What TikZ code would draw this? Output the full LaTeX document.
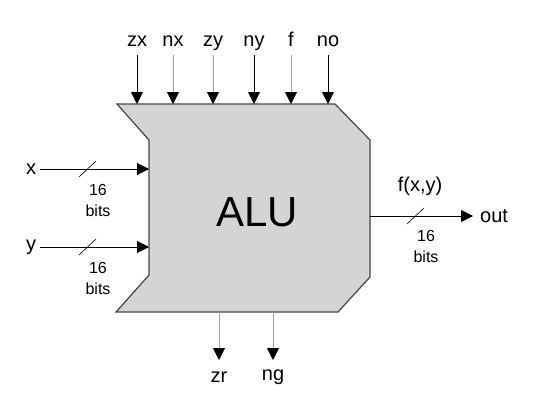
\documentclass[tikz,border=0pt]{standalone}
\usepackage{fontspec}
\setmainfont{Liberation Sans}
\usetikzlibrary{arrows.meta}
\definecolor{alufill}{HTML}{D4D4D4}
\definecolor{aluedge}{HTML}{444444}
\definecolor{pinlight}{HTML}{A0A0A0}

\begin{document}
\begin{tikzpicture}[x=1pt,y=-1pt,
  pin/.style={-{Triangle[length=12pt,width=12pt,color=black]},line width=0.9pt},
  lbl/.style={font=\fontsize{20}{20}\selectfont,inner sep=0pt},
  buswidth/.style={font=\fontsize{16}{21}\selectfont,align=center,inner sep=0pt}]
\useasboundingbox (0,0) rectangle (540,418);
% body of the unit
\draw[fill=alufill,draw=aluedge,line width=1.2pt] (117,104) -- (335,104) -- (370,140) -- (370,277)
  -- (338,312) -- (116,312) -- (149,275) -- (149,140) -- cycle;
\node[font=\fontsize{42}{42}\selectfont] (alu) at (257,212) {ALU};
% control bits
\foreach \name/\x/\c in {zx/137/black,nx/173/pinlight,zy/213/pinlight,ny/254/black,f/291/pinlight,no/328/black}
{
\node[lbl,anchor=base] (\name) at (\x,46) {\name};
\coordinate (\name-top) at (\x,55);
\coordinate (\name-end) at (\x,104);
\draw[pin,draw=\c] (\name-top) -- (\name-end);
}
% data inputs
\foreach \name/\y in {x/169,y/247}
{
\node[lbl,inner xsep=4pt] (\name) at (31,\y) {\name};
\coordinate (\name-end) at (149,\y);
\draw[pin] (\name.east |- \name-end) -- (\name-end);
\coordinate (\name-s1) at (79,\y+8);
\coordinate (\name-s2) at (96,\y-8);
\draw[line width=0.6pt] (\name-s1) -- (\name-s2);
\node[buswidth] (\name-w) at (98,\y+31) {16\\bits};
}
% output
\coordinate (fout) at (370,216);
\node[lbl,anchor=west,inner xsep=7pt] (out) at (473,216) {out};
\draw[pin] (fout) -- (out.west |- fout);
\node[lbl] (fxy) at (420,186) {f(x,y)};
\coordinate (o-s1) at (407,224);
\coordinate (o-s2) at (424,208);
\draw[line width=0.6pt] (o-s1) -- (o-s2);
\node[buswidth] (out-w) at (426,246) {16\\bits};
% status bits
\foreach \name/\x in {zr/219,ng/273}
{
\coordinate (\name-start) at (\x,312);
\node[lbl] (\name) at (\x,377) {\name};
\coordinate (\name-end) at (\x,360);
\draw[pin,draw=pinlight] (\name-start) -- (\name-end);
}
\end{tikzpicture}
\end{document}
